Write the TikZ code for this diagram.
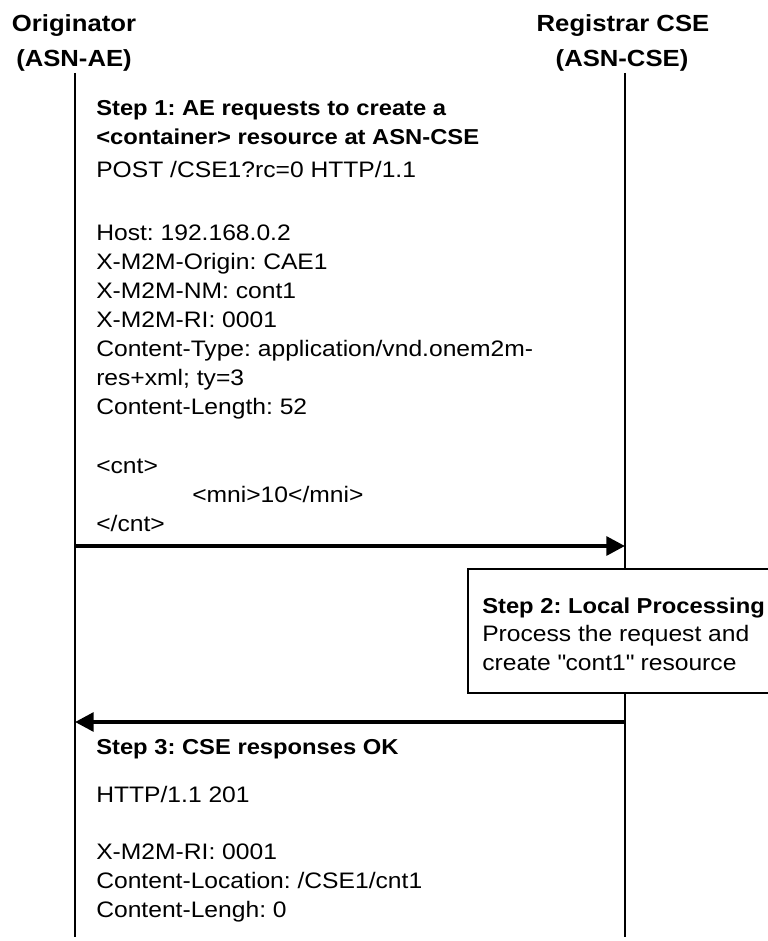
\documentclass[tikz,border=0pt]{standalone}
\usepackage{fontspec}
\setmainfont{Liberation Sans}[FakeStretch=1.1]
\usepackage{tikz}
\usetikzlibrary{positioning,arrows.meta}
\tikzset{>={Triangle[width=14pt,length=14pt]}}
\tikzset{
  hdr/.style={font=\fontsize{17.5}{21}\selectfont\bfseries, inner sep=0pt, anchor=base},
  txt/.style={font=\fontsize{16.8}{20}\selectfont, inner sep=0pt, anchor=base west},
  steptxt/.style={txt, font=\fontsize{16.2}{20}\selectfont\bfseries},
  life/.style={line width=1.2pt},
  msg/.style={->, line width=3pt},
}
\frenchspacing

\begin{document}
\begin{tikzpicture}[x=0.75pt,y=-0.75pt]
	\useasboundingbox (0,0) rectangle (767,941);
	% participants
	\node[hdr] (orig) at (74,32) {Originator};
	\node[hdr] (origsub) at (74,67) {(ASN-AE)};
	\node[hdr] (reg) at (623,32) {Registrar CSE};
	\node[hdr] (regsub) at (622,67) {(ASN-CSE)};
	\coordinate (origtop) at (75,73);
	\coordinate (origbot) at (75,937);
	\coordinate (regtop) at (625,73);
	\coordinate (regbot) at (625,937);
	\draw[life] (origtop) -- (origbot);
	\draw[life] (regtop) -- (regbot);

	% step 1: request
	\node[steptxt] (step1a) at (96,116) {Step 1: AE requests to create a};
	\node[steptxt] (step1b) at (96,145) {<container> resource at ASN-CSE};
	\node[txt] (post) at (96,178) {POST /CSE1?rc=0 HTTP/1.1};
	\node[txt] (host) at (96,240) {Host: 192.168.0.2};
	\node[txt] (origin) at (96,269) {X-M2M-Origin: CAE1};
	\node[txt] (nm) at (96,298) {X-M2M-NM: cont1};
	\node[txt] (ri) at (96,327) {X-M2M-RI: 0001};
	\node[txt] (ctype) at (96,356) {Content-Type: application/vnd.onem2m-};
	\node[txt] (ctypeb) at (96,385) {res+xml; ty=3};
	\node[txt] (clen) at (96,414) {Content-Length: 52};
	\node[txt] (cntopen) at (96,473) {<cnt>};
	\node[txt] (mni) at (192,502) {<mni>10</mni>};
	\node[txt] (cntclose) at (96,531) {</cnt>};
	\coordinate (reqstart) at (75,546);
	\coordinate (reqend) at (625,546);
	\draw[msg] (reqstart) -- (reqend);

	% step 2: processing box
	\filldraw[fill=white, line width=1.2pt] (768,569) -| (468,693) -- (768,693);
	\node[steptxt] (step2) at (482,613) {Step 2: Local Processing};
	\node[txt] (proca) at (482,641) {Process the request and};
	\node[txt] (procb) at (482,670) {create \textquotedbl cont1\textquotedbl{} resource};

	% step 3: response
	\coordinate (rspstart) at (625,722);
	\coordinate (rspend) at (75,722);
	\draw[msg] (rspstart) -- (rspend);
	\node[steptxt] (step3) at (96,754) {Step 3: CSE responses OK};
	\node[txt] (status) at (96,802) {HTTP/1.1 201};
	\node[txt] (rspri) at (96,859) {X-M2M-RI: 0001};
	\node[txt] (cloc) at (96,888) {Content-Location: /CSE1/cnt1};
	\node[txt] (clenb) at (96,917) {Content-Lengh: 0};
\end{tikzpicture}
\end{document}
